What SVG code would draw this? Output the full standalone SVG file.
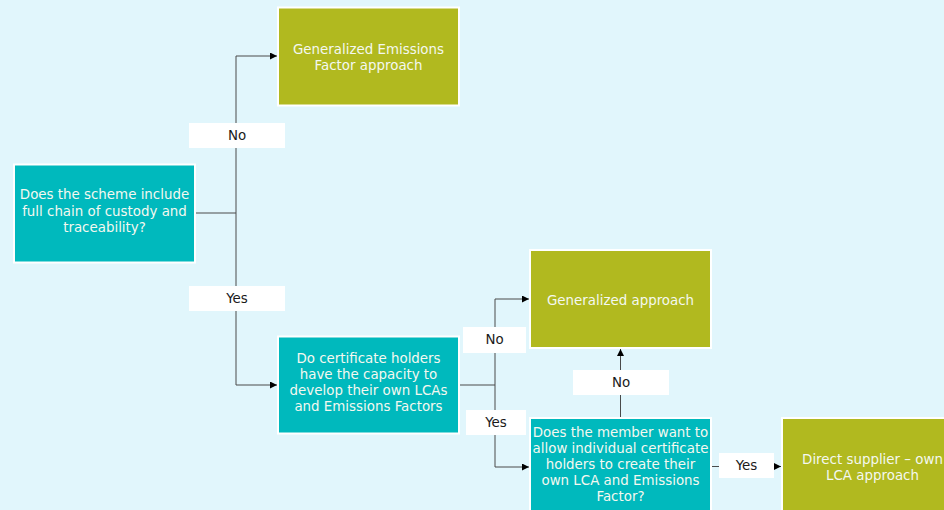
<svg xmlns="http://www.w3.org/2000/svg" width="944" height="510" viewBox="0 0 944 510">
<defs>
<style>
.bg{fill:#E1F6FC}
.olive{fill:#B1B91F;stroke:#FFFFFF;stroke-width:2}
.teal{fill:#00B9BD;stroke:#FFFFFF;stroke-width:2}
.nt{font-family:"DejaVu Sans",Verdana,sans-serif;font-size:13.4px;fill:#F4F8F0;text-anchor:middle}
.lbl{fill:#FFFFFF}
.lt{font-family:"DejaVu Sans",Verdana,sans-serif;font-size:13.4px;fill:#1A1A1A;text-anchor:middle}
.ln{fill:none;stroke:#4A4A4A;stroke-width:1}
</style>
<marker id="arr" viewBox="0 0 10 10" refX="10" refY="5" markerWidth="7" markerHeight="7" orient="auto" markerUnits="userSpaceOnUse">
<path d="M0,0 L10,5 L0,10 z" fill="#000"/>
</marker>
</defs>
<rect class="bg" x="0" y="0" width="944" height="510"/>
<g id="connectors">
<path class="ln" d="M195,213 H236"/>
<path class="ln" d="M236,385 V56 H277" marker-end="url(#arr)"/>
<path class="ln" d="M236,385 H277" marker-end="url(#arr)"/>
<path class="ln" d="M460,385 H495"/>
<path class="ln" d="M495,467 V299 H529" marker-end="url(#arr)"/>
<path class="ln" d="M495,467 H529" marker-end="url(#arr)"/>
<path class="ln" d="M620.5,417 V349" marker-end="url(#arr)"/>
<path class="ln" d="M712,466.5 H781" marker-end="url(#arr)"/>
<g id="lbl-no1"><rect class="lbl" x="189" y="123" width="96" height="25"/><text class="lt" x="237" y="140">No</text></g>
<g id="lbl-yes1"><rect class="lbl" x="189" y="286" width="96" height="25"/><text class="lt" x="237" y="303">Yes</text></g>
<g id="lbl-no2"><rect class="lbl" x="463" y="327" width="63" height="26"/><text class="lt" x="494.5" y="344">No</text></g>
<g id="lbl-yes2"><rect class="lbl" x="466" y="410" width="60" height="25"/><text class="lt" x="496" y="427">Yes</text></g>
<g id="lbl-no3"><rect class="lbl" x="573" y="370" width="96" height="25"/><text class="lt" x="621" y="387">No</text></g>
<g id="lbl-yes3"><rect class="lbl" x="719" y="453" width="55" height="25"/><text class="lt" x="746.5" y="470">Yes</text></g>
</g>
<g id="n-gef">
<rect class="olive" x="278" y="7.5" width="181" height="98"/>
<text class="nt" x="368.5" y="54">Generalized Emissions</text>
<text class="nt" x="368.5" y="70">Factor approach</text>
</g>
<g id="n-scheme">
<rect class="teal" x="14" y="164.5" width="181" height="98"/>
<text class="nt" x="104.5" y="199">Does the scheme include</text>
<text class="nt" x="104.5" y="216">full chain of custody and</text>
<text class="nt" x="104.5" y="232">traceability?</text>
</g>
<g id="n-capacity">
<rect class="teal" x="278" y="336.5" width="181" height="97"/>
<text class="nt" x="368.5" y="363">Do certificate holders</text>
<text class="nt" x="368.5" y="379">have the capacity to</text>
<text class="nt" x="368.5" y="395">develop their own LCAs</text>
<text class="nt" x="368.5" y="411">and Emissions Factors</text>
</g>
<g id="n-ga">
<rect class="olive" x="530" y="250" width="181" height="98"/>
<text class="nt" x="620.5" y="305">Generalized approach</text>
</g>
<g id="n-member">
<rect class="teal" x="530" y="418" width="181" height="100"/>
<text class="nt" x="620.5" y="437">Does the member want to</text>
<text class="nt" x="620.5" y="453">allow individual certificate</text>
<text class="nt" x="620.5" y="469">holders to create their</text>
<text class="nt" x="620.5" y="485">own LCA and Emissions</text>
<text class="nt" x="620.5" y="501">Factor?</text>
</g>
<g id="n-direct">
<rect class="olive" x="782" y="418" width="181" height="100"/>
<text class="nt" x="872.5" y="464">Direct supplier – own</text>
<text class="nt" x="872.5" y="480">LCA approach</text>
</g>
</svg>
